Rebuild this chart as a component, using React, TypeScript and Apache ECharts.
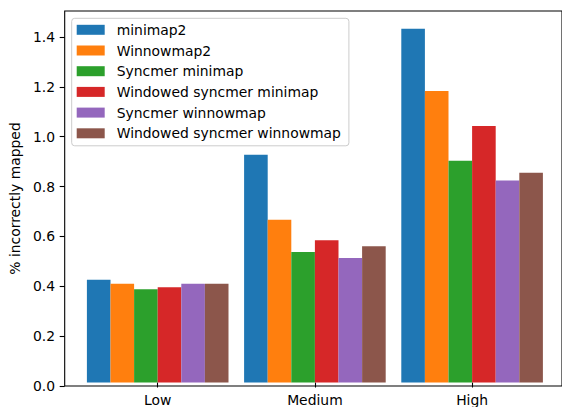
import React, { useEffect, useRef } from "react";
import * as echarts from "echarts";

const categories = ["Low", "Medium", "High"];
const seriesNames = [
  "minimap2",
  "Winnowmap2",
  "Syncmer minimap",
  "Windowed syncmer minimap",
  "Syncmer winnowmap",
  "Windowed syncmer winnowmap",
];
const minimap2 = [0.416, 0.922, 1.432];
const winnowmap2 = [0.4, 0.659, 1.18];
const syncmerMinimap = [0.378, 0.528, 0.898];
const windowedSyncmerMinimap = [0.386, 0.576, 1.038];
const syncmerWinnowmap = [0.4, 0.504, 0.818];
const windowedSyncmerWinnowmap = [0.4, 0.552, 0.849];
const yTicks = [0, 0.2, 0.4, 0.6, 0.8, 1.0, 1.2, 1.4];
const colors = ["#1f77b4", "#ff7f0e", "#2ca02c", "#d62728", "#9467bd", "#8c564b"];

const allSeries = [
  minimap2,
  winnowmap2,
  syncmerMinimap,
  windowedSyncmerMinimap,
  syncmerWinnowmap,
  windowedSyncmerWinnowmap,
];

const FONT = "DejaVu Sans";
const YMAX = 1.504;

export default function App() {
  const ref = useRef<HTMLDivElement>(null);
  useEffect(() => {
    if (!ref.current) return;
    const chart = echarts.init(ref.current, null, { renderer: "svg" });
    chart.setOption({
      animation: false,
      backgroundColor: "#ffffff",
      textStyle: { fontFamily: FONT },
      grid: [
        {
          left: 64,
          top: 11,
          width: 510,
          height: 375,
          show: true,
          borderColor: "#000",
          borderWidth: 1.1,
          backgroundColor: "transparent",
        },
        {
          left: 79.1,
          top: 11,
          width: 471.6,
          height: 375,
        },
      ],
      xAxis: [
        {
          gridIndex: 0,
          type: "value",
          min: 0,
          max: 1,
          show: false,
        },
        {
          gridIndex: 1,
          type: "category",
          data: categories,
          axisLine: { show: false },
          axisTick: {
            show: true,
            alignWithLabel: true,
            length: 5,
            lineStyle: { color: "#000", width: 1.1 },
          },
          axisLabel: {
            margin: 10.5,
            color: "#000",
            fontFamily: FONT,
            fontSize: 13.9,
          },
        },
      ],
      yAxis: [
        {
          gridIndex: 0,
          type: "value",
          min: 0,
          max: YMAX,
          name: "% incorrectly mapped",
          nameLocation: "middle",
          nameGap: 36,
          nameTextStyle: { color: "#000", fontFamily: FONT, fontSize: 13.9 },
          axisLine: { show: false },
          splitLine: { show: false },
          axisTick: {
            show: true,
            length: 5,
            customValues: yTicks,
            lineStyle: { color: "#000", width: 1.1 },
          },
          axisLabel: {
            customValues: yTicks,
            margin: 9.7,
            color: "#000",
            fontFamily: FONT,
            fontSize: 13.9,
            formatter: (v: number) => v.toFixed(1),
          },
        },
        {
          gridIndex: 1,
          type: "value",
          min: 0,
          max: YMAX,
          show: false,
          splitLine: { show: false },
        },
      ],
      legend: {
        orient: "vertical",
        left: 71.7,
        top: 18.3,
        padding: [4.5, 8, 5.5, 5],
        itemWidth: 28,
        itemHeight: 10,
        itemGap: 6.7,
        icon: "rect",
        backgroundColor: "rgba(255,255,255,0.8)",
        borderColor: "#cccccc",
        borderWidth: 1,
        borderRadius: 3,
        data: seriesNames,
        textStyle: {
          color: "#000",
          fontFamily: FONT,
          fontSize: 13.9,
          padding: [0, 0, 0, 7],
        },
      },
      series: allSeries.map((vals, i) => ({
        name: seriesNames[i],
        type: "bar",
        xAxisIndex: 1,
        yAxisIndex: 1,
        data: vals,
        barWidth: 23.6,
        barGap: "0%",
        itemStyle: { color: colors[i] },
      })),
    });
    return () => chart.dispose();
  }, []);
  return (
    <div
      ref={ref}
      style={{ position: "fixed", left: 0, top: 0, width: 562, height: 407 }}
    />
  );
}
